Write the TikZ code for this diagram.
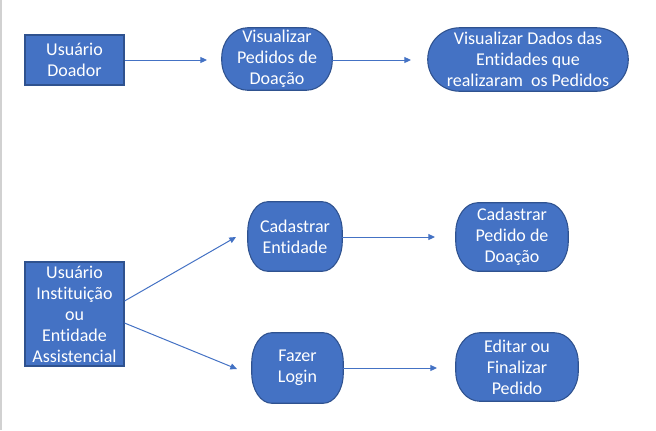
\documentclass[tikz,border=0pt]{standalone}
\usepackage{fontspec}
\setmainfont{Carlito}[Ligatures=NoCommon]
\usetikzlibrary{arrows.meta,backgrounds}
\definecolor{boxblue}{HTML}{4472C4}
\definecolor{boxedge}{HTML}{2F528F}
\newcommand\softbox[3]{%
  \path[shapefill] ([xshift=#2]#1.north west) -- ([xshift=-#2]#1.north east)
    arc[start angle=90,end angle=0,x radius=#2,y radius=#3]
    -- ([yshift=#3]#1.south east)
    arc[start angle=0,end angle=-90,x radius=#2,y radius=#3]
    -- ([xshift=#2]#1.south west)
    arc[start angle=270,end angle=180,x radius=#2,y radius=#3]
    -- ([yshift=-#3]#1.north west)
    arc[start angle=180,end angle=90,x radius=#2,y radius=#3] -- cycle;}
\tikzset{
  shapefill/.style={fill=boxblue,draw=boxedge,line width=0.8pt},
  label/.style={text=white,align=center,inner sep=0pt,
    font=\fontsize{13.5}{15.8}\selectfont},
  sqbox/.style={label,fill=boxblue,draw=boxedge,line width=0.8pt},
  arr/.style={draw=boxblue,line width=0.75pt,-{Triangle[length=5pt,width=4.5pt]}}
}
\begin{document}
\begin{tikzpicture}[x=0.75pt,y=-0.75pt]
\useasboundingbox (0,0) rectangle (656,430);
\draw[black!18,line width=1.5pt] (1,0) -- (1,430);

\node[sqbox,minimum width=74.25pt,minimum height=37.5pt] (ud) at (74.5,60) {Usuário\\Doador};
\node[label,minimum width=82.5pt,minimum height=46.5pt] (vp) at (277,59) {Visualizar\\Pedidos de\\Doação};
\node[label,minimum width=150pt,minimum height=47.25pt] (vd) at (528,59.5) {Visualizar Dados das\\Entidades que\\realizaram\ \ os Pedidos};
\node[label,minimum width=70.5pt,minimum height=51.75pt] (ce) at (295,236.5) {Cadastrar\\Entidade};
\node[label,minimum width=84pt,minimum height=51pt] (cp) at (512,237) {Cadastrar\\Pedido de\\Doação};
\node[sqbox,minimum width=74.25pt,minimum height=78pt] (ii) at (74.5,314) {Usuário\\Instituição\\ou\\Entidade\\Assistencial};
\node[label,minimum width=68.25pt,minimum height=52.5pt] (fl) at (297.5,368) {Fazer\\Login};
\node[label,minimum width=91.5pt,minimum height=51pt] (ef) at (517,367) {Editar ou\\Finalizar\\Pedido};

\begin{scope}[on background layer]
\softbox{vp}{19.5pt}{22.5pt}
\softbox{vd}{24pt}{23.6pt}
\softbox{ce}{15pt}{22.5pt}
\softbox{cp}{16.5pt}{22.5pt}
\softbox{fl}{15pt}{22.5pt}
\softbox{ef}{18pt}{22.5pt}
\end{scope}

\coordinate (e1) at (207,60);
\coordinate (e2) at (411,60);
\coordinate (e3) at (435,237);
\coordinate (e4) at (437,368);
\coordinate (e5) at (236,237);
\coordinate (e6) at (237,369);

\draw[arr] (ud.east) -- (e1);
\draw[arr] (vp.east |- e2) -- (e2);
\draw[arr] (ce.east |- e3) -- (e3);
\draw[arr] (fl.east |- e4) -- (e4);
\draw[arr] ([yshift=9.75pt]ii.east) -- (e5);
\draw[arr] ([yshift=-6.75pt]ii.east) -- (e6);
\end{tikzpicture}
\end{document}
